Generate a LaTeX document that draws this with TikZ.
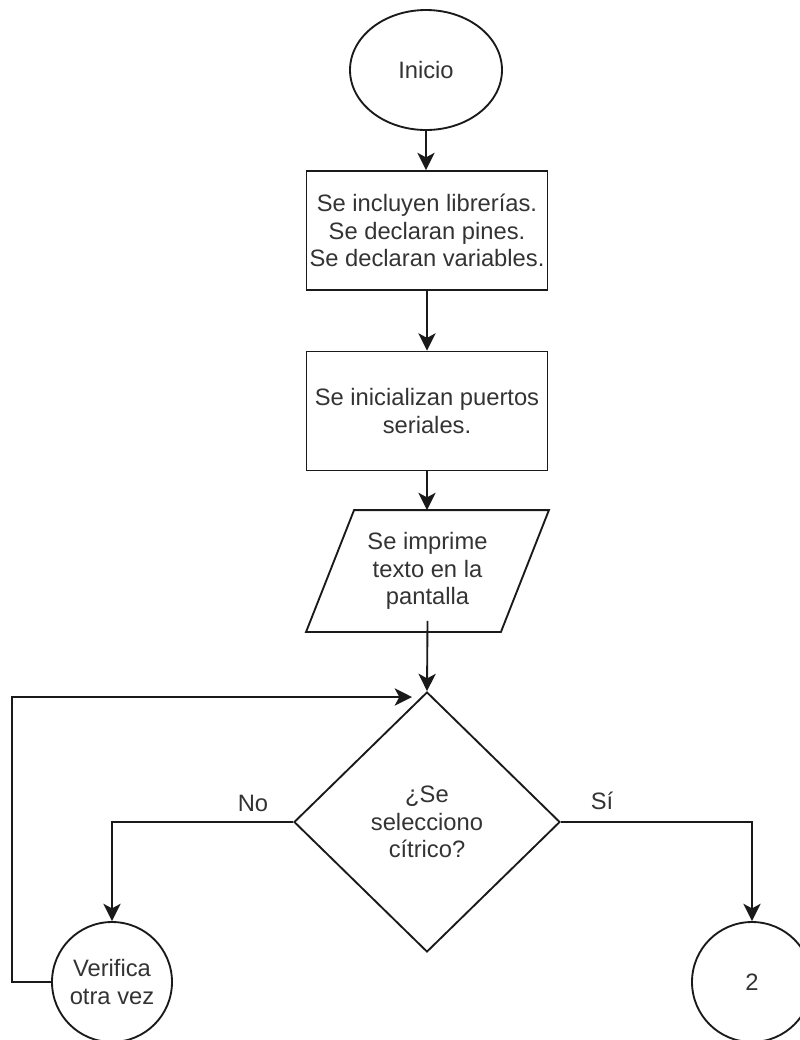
\documentclass[tikz,border=0pt]{standalone}
\usepackage{fontspec}
\setmainfont{Liberation Sans}
\usetikzlibrary{shapes.geometric,arrows.meta,calc}

\definecolor{ink}{HTML}{1A1A1A}
\definecolor{txt}{HTML}{333333}

\tikzset{
  base/.style={draw=ink, line width=1.4pt, text=txt, align=center, inner sep=0pt,
    font=\fontsize{17.8pt}{20.5pt}\selectfont},
  terminal/.style={base, ellipse, minimum width=152*0.75pt, minimum height=120*0.75pt},
  process/.style={base, rectangle, minimum width=241*0.75pt, minimum height=119*0.75pt},
  iobox/.style={base, draw=none, rectangle, minimum width=241*0.75pt, minimum height=120*0.75pt},
  decision/.style={base, diamond, minimum width=266*0.75pt, minimum height=260*0.75pt},
  connector/.style={base, circle, minimum size=120*0.75pt},
  flow/.style={draw=ink, line width=1.4pt, -{Stealth[length=13pt,width=13pt,inset=3.5pt]}},
  lbl/.style={text=txt, inner sep=0pt, font=\fontsize{17.8pt}{20.5pt}\selectfont}
}

\begin{document}
\begin{tikzpicture}[x=0.75pt, y=-0.75pt]
  \useasboundingbox (0,0) rectangle (800,1040);

  % shapes
  \node[terminal] (ini) at (426,70) {Inicio};
  \node[process] (lib) at (427,230.5) {Se incluyen librerías.\\Se declaran pines.\\Se declaran variables.};
  \node[process] (ser) at (427,411) {Se inicializan puertos\\seriales.};
  \node[iobox] (out) at (427.5,571) {Se imprime\\texto en la\\pantalla};
  \draw[draw=ink, line width=1.4pt]
    ($(out.north west)+(48,0)$) -- (out.north east)
    -- ($(out.south east)+(-48,0)$) -- (out.south west) -- cycle;
  \node[decision] (dec) at (427,822) {¿Se\\selecciono\\cítrico?};
  \node[connector] (ver) at (112,982) {Verifica\\otra vez};
  \node[connector] (two) at (752,982) {2};

  % bends and ends of the loop
  \coordinate (loopin) at (412,697);
  \coordinate (loopcorner) at (12,697);

  % straight flow
  \draw[flow] (ini.south) -- (ini.south |- lib.north);
  \draw[flow] (lib.south) -- (lib.south |- ser.north);
  \draw[flow] (ser.south) -- (ser.south |- out.north);
  \draw[flow] ($(out.south)+(0,-11)$) -- (dec.north);

  % branches
  \draw[flow] (dec.west) -| (ver.north);
  \draw[flow] (dec.east) -| (two.north);
  \draw[flow] (ver.west) -| (loopcorner) -- (loopin);

  % branch labels
  \node[lbl] (no) at (253,803) {No};
  \node[lbl] (si) at (602,801) {Sí};
\end{tikzpicture}
\end{document}
